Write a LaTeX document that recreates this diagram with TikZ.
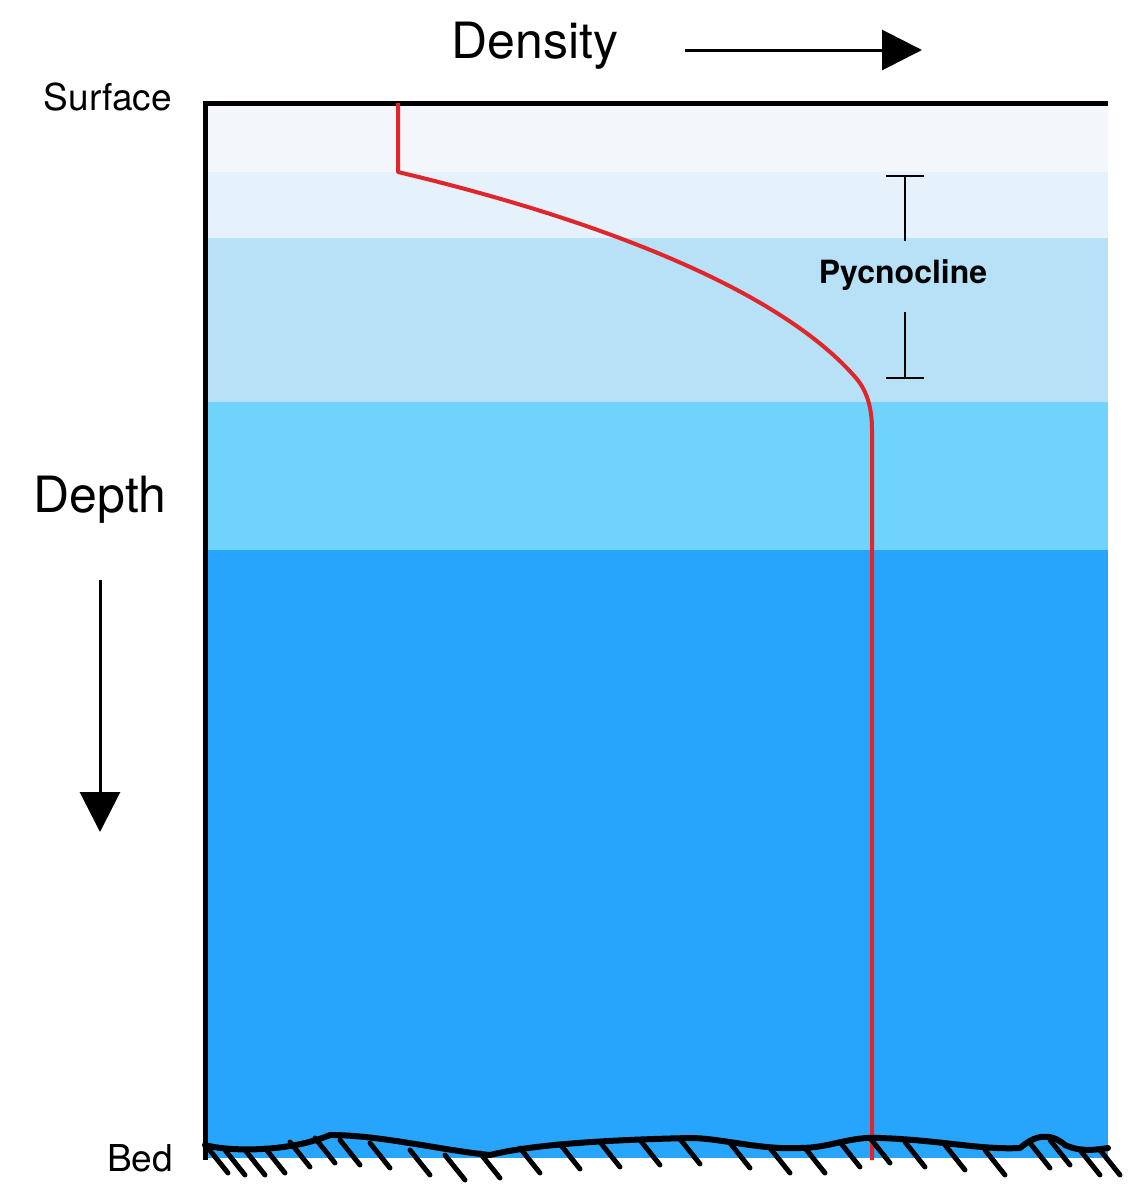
\documentclass[tikz,border=0pt]{standalone}
\usepackage{fontspec}
\setmainfont{TeX Gyre Heros}
\usetikzlibrary{arrows.meta}
\definecolor{l0}{HTML}{F3F6FA}
\definecolor{l1}{HTML}{E5F1FB}
\definecolor{l2}{HTML}{B6E1F7}
\definecolor{l3}{HTML}{6FD3FC}
\definecolor{l4}{HTML}{27A5FC}
\definecolor{curve}{HTML}{E0262B}
\tikzset{lbl/.style={inner sep=0pt,font=\fontsize{37}{37}\selectfont},
bigarrow/.style={line width=3pt,-{Triangle[length=40pt,width=40pt]}}}
\begin{document}
\begin{tikzpicture}[x=1pt,y=-1pt]
\useasboundingbox[fill=white] (0,0) rectangle (1135,1200);
\fill[l0] (205,103) rectangle (1108,172);
\fill[l1] (205,172) rectangle (1108,238);
\fill[l2] (205,238) rectangle (1108,402);
\fill[l3] (205,402) rectangle (1108,550);
\fill[l4] (205,550) rectangle (1108,1158);
\draw[line width=5pt] (205,1160) -- (205,103) -- (1108,103);
% density profile
\draw[curve,line width=4pt,line join=round] (398,103) -- (398,172)
  .. controls (600,220) and (780,290) .. (856,378)
  .. controls (868,392) and (872,410) .. (872,430) -- (872,1160);
% bed
\draw[line width=6pt,line join=round,line cap=round] (205,1145)
 .. controls (230,1152) and (290,1152) .. (330,1135)
 .. controls (380,1135) and (440,1150) .. (490,1155)
 .. controls (530,1145) and (600,1140) .. (690,1138)
 .. controls (720,1138) and (760,1150) .. (800,1148)
 .. controls (830,1148) and (850,1136) .. (880,1138)
 .. controls (940,1140) and (980,1150) .. (1020,1148)
 .. controls (1035,1135) and (1050,1132) .. (1065,1145)
 .. controls (1080,1152) and (1095,1150) .. (1108,1148);
\foreach \x/\y in {208/1148,225/1150,245/1150,265/1148,290/1142,315/1138,340/1140,370/1143,410/1150,445/1155,480/1153,520/1148,560/1144,600/1142,640/1140,680/1139,730/1143,770/1148,805/1148,840/1142,870/1138,905/1142,945/1145,985/1150,1030/1143,1050/1140,1080/1150,1100/1150}
  \draw[line width=5pt,line cap=round] (\x,\y) -- ++(20,25);
% pycnocline marker
\draw[line width=2.5pt] (886,176) -- (924,176) (905,176) -- (905,241);
\draw[line width=2.5pt] (886,378) -- (924,378) (905,378) -- (905,312);
\node[lbl,font=\bfseries\fontsize{32}{32}\selectfont] (pyc) at (903,275) {Pycnocline};
% labels
\node[lbl,font=\fontsize{50}{50}\selectfont] (dens) at (535,46) {Density};
\node[lbl] (surf) at (108,97) {Surface};
\node[lbl,font=\fontsize{50}{50}\selectfont] (dep) at (100,500) {Depth};
\node[lbl] (bed) at (140,1158) {Bed};
\coordinate (da) at (685,50); \coordinate (db) at (922,50);
\draw[bigarrow] (da) -- (db);
\coordinate (ea) at (100,580); \coordinate (eb) at (100,832);
\draw[bigarrow] (ea) -- (eb);
\end{tikzpicture}
\end{document}
